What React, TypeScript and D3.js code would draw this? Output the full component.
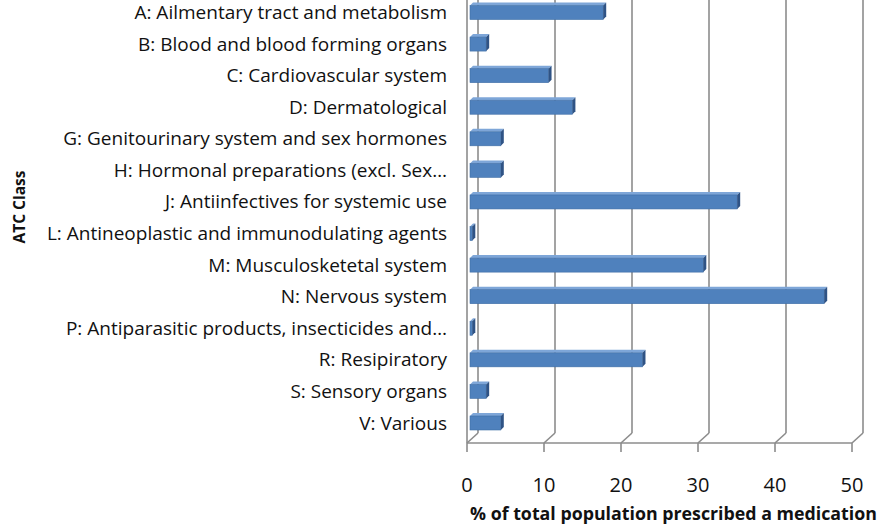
import React from 'react';
import * as d3 from 'd3';

const categories = [
  'A: Ailmentary tract and metabolism',
  'B: Blood and blood forming organs',
  'C: Cardiovascular system',
  'D: Dermatological',
  'G: Genitourinary system and sex hormones',
  'H: Hormonal preparations (excl. Sex…',
  'J: Antiinfectives for systemic use',
  'L: Antineoplastic and immunodulating agents',
  'M: Musculosketetal system',
  'N: Nervous system',
  'P: Antiparasitic products, insecticides and…',
  'R: Resipiratory',
  'S: Sensory organs',
  'V: Various'
];

const values = [17.3, 2.1, 10.2, 13.3, 4.0, 4.0, 34.7, 0.3, 30.3, 46.0, 0.3, 22.4, 2.1, 4.0];

const ticks = [0, 10, 20, 30, 40, 50];

const xTitle = '% of total population prescribed a medication';
const yTitle = 'ATC Class';

const W = 885;
const H = 527;
const depthX = 11;
const depthY = -10;
const floorY = 443;
const barShift = 3;
const barH = 14;
const barD = 3;
const font = "'Open Sans', sans-serif";

export default function App() {
  const x = d3.scaleLinear().domain([0, 50]).range([467, 852]);
  const y = d3.scalePoint<string>().domain(categories).range([12.5, 423]);
  const grid = '#8c8c8c';

  return (
    <svg width={W} height={H} style={{ display: 'block', position: 'absolute', left: 0, top: 0 }}>
      <rect width={W} height={H} fill="#fff" />
      {/* back wall gridlines + floor diagonals */}
      {ticks.map(t => (
        <g key={t} stroke={grid} strokeWidth={1.6} fill="none">
          <line x1={x(t) + depthX} x2={x(t) + depthX} y1={0} y2={floorY + depthY} />
          <line x1={x(t) + depthX} x2={x(t)} y1={floorY + depthY} y2={floorY} />
          <line x1={x(t)} x2={x(t)} y1={floorY} y2={floorY + 9} />
        </g>
      ))}
      <line x1={x(0)} x2={x(0)} y1={0} y2={floorY} stroke={grid} strokeWidth={1.6} />
      <line x1={x(0)} x2={x(50)} y1={floorY} y2={floorY} stroke={grid} strokeWidth={1.6} />

      {/* bars */}
      {categories.map((c, i) => {
        const x0 = x(0) + barShift;
        const x1 = x(values[i]) + barShift;
        const top = (y(c) as number) - barH / 2;
        return (
          <g key={c}>
            <polygon
              points={`${x0},${top} ${x0 + barD},${top - barD} ${x1 + barD},${top - barD} ${x1},${top}`}
              fill="#7ea6d8"
            />
            <rect x={x0} y={top} width={x1 - x0} height={barH} fill="#4f81bd" stroke="#3f6ea6" strokeWidth={0.6} />
            <polygon
              points={`${x1},${top} ${x1 + barD},${top - barD} ${x1 + barD},${top + barH - barD} ${x1},${top + barH}`}
              fill="#2f5385"
            />
          </g>
        );
      })}

      {/* category labels */}
      {categories.map(c => (
        <text
          key={c}
          x={447}
          y={(y(c) as number) + 6.5}
          textAnchor="end"
          fontFamily={font}
          fontSize={19}
          fill="#111"
        >
          {c}
        </text>
      ))}

      {/* tick labels */}
      {ticks.map(t => (
        <text key={t} x={x(t)} y={492} textAnchor="middle" fontFamily={font} fontSize={20} fill="#111">
          {t}
        </text>
      ))}

      <text x={470} y={520} fontFamily={font} fontSize={17.8} fontWeight="bold" fill="#111">
        {xTitle}
      </text>
      <text
        transform="translate(25,207) rotate(-90)"
        textAnchor="middle"
        fontFamily={font}
        fontSize={15.5}
        fontWeight="bold"
        fill="#111"
      >
        {yTitle}
      </text>
    </svg>
  );
}
